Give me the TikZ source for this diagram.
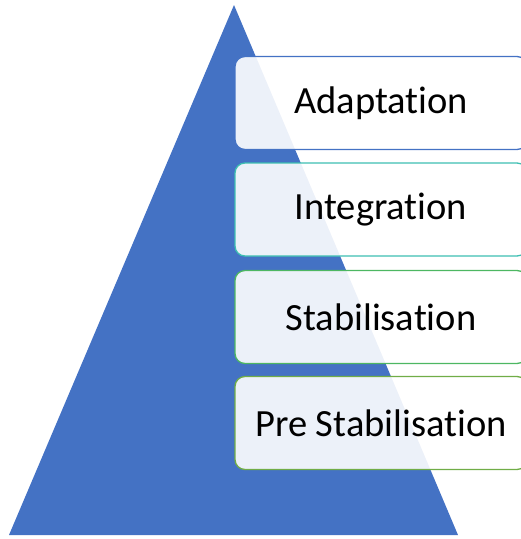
\documentclass[tikz,border=0pt]{standalone}
\usepackage{fontspec}
\setmainfont{Carlito}[RawFeature = {-liga;-clig;-dlig;-calt}]
\usepackage{tikz}
\definecolor{pyrblue}{HTML}{4472C4}
\definecolor{lvlteal}{HTML}{3DBFB2}
\definecolor{lvlgreen}{HTML}{4DB762}
\definecolor{lvlolive}{HTML}{70AD47}
\tikzset{
	level/.style = {draw, line width = 1.3pt, rounded corners = 10pt, fill = white,
		fill opacity = 0.9, text opacity = 1, minimum width = 292pt,
		minimum height = 93pt, inner sep = 0pt,
		font = \fontsize{38.5}{42}\selectfont}
}
\begin{document}
\begin{tikzpicture}[x = 1pt, y = -1pt]
			\useasboundingbox (0,0) rectangle (521,539);

			\begin{scope}
				\fill [pyrblue] (9,535) -- (234,5) -- (458,535) -- cycle;
			\end{scope}

			\begin{scope}
				\node [level, draw = pyrblue] (adapt) at (381,103) {Adaptation};
				\node [level, draw = lvlteal] (integ) at (381,209.5) {Integration};
				\node [level, draw = lvlgreen] (stab) at (381,317) {Stabilisation};
				\node [level, draw = lvlolive] (prestab) at (381,423) {Pre Stabilisation};
			\end{scope}
		\end{tikzpicture}
\end{document}
